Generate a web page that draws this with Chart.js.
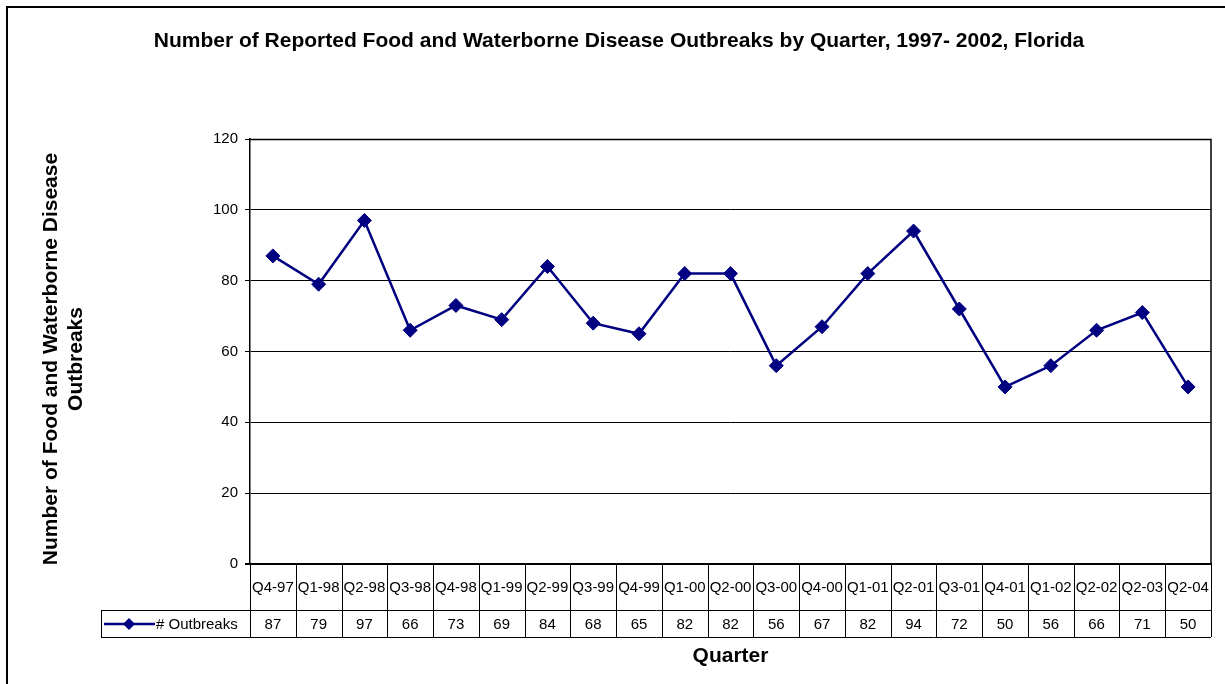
<!DOCTYPE html>
<html>
<head>
<meta charset="utf-8">
<script src="https://cdn.jsdelivr.net/npm/chart.js@4.4.1/dist/chart.umd.min.js"></script>
<style>
html,body{margin:0;padding:0;background:#fff;}
#wrap{position:relative;width:1225px;height:684px;}
</style>
</head>
<body>
<div id="wrap"><canvas id="c" width="1225" height="684"></canvas></div>
<script>
const categories = ["Q4-97","Q1-98","Q2-98","Q3-98","Q4-98","Q1-99","Q2-99","Q3-99","Q4-99","Q1-00","Q2-00","Q3-00","Q4-00","Q1-01","Q2-01","Q3-01","Q4-01","Q1-02","Q2-02","Q2-03","Q2-04"];
const outbreaks = [87,79,97,66,73,69,84,68,65,82,82,56,67,82,94,72,50,56,66,71,50];
const seriesName = "# Outbreaks";
const yTicks = [0,20,40,60,80,100,120];
const chartTitle = "Number of Reported Food and Waterborne Disease Outbreaks by Quarter, 1997- 2002, Florida";
const yTitleLines = ["Number of Food and Waterborne Disease","Outbreaks"];
const xTitle = "Quarter";

const NAVY = "#000080";
const FONT = "Arial, 'Liberation Sans', sans-serif";
const ROW1 = 46, ROW2 = 27;

const tablePlugin = {
  id: 'tablePlugin',
  beforeDraw(chart){
    const ctx = chart.ctx;
    ctx.save();
    ctx.fillStyle = '#fff';
    ctx.fillRect(0,0,chart.width,chart.height);
    ctx.restore();
  },
  afterDraw(chart){
    const ctx = chart.ctx;
    const ca = chart.chartArea;
    const xs = chart.scales.x;
    const n = chart.data.labels.length;
    const step = (ca.right - ca.left)/n;
    const y0 = ca.bottom, y1 = ca.bottom + ROW1, y2 = y1 + ROW2;
    ctx.save();
    // outer frame
    ctx.strokeStyle = '#000';
    ctx.lineWidth = 2;
    ctx.strokeRect(7, 7, 1400, 900);
    // plot border (top/right)
    ctx.lineWidth = 1.5;
    ctx.beginPath();
    ctx.moveTo(ca.left, ca.top+0.5); ctx.lineTo(ca.right, ca.top+0.5);
    ctx.lineTo(ca.right, ca.bottom);
    ctx.stroke();
    // table lines
    ctx.lineWidth = 1;
    ctx.strokeStyle = '#000';
    ctx.beginPath();
    for(let i=0;i<=n;i++){
      const x = Math.round(xs.getPixelForValue(Math.min(i,n-1)) + (i<n ? -step/2 : step/2)) + 0.5;
      ctx.moveTo(x, y0); ctx.lineTo(x, y2);
    }
    ctx.moveTo(101.5, y1+0.5); ctx.lineTo(ca.right, y1+0.5);
    ctx.moveTo(101.5, y2+0.5); ctx.lineTo(ca.right, y2+0.5);
    ctx.moveTo(101.5, y1); ctx.lineTo(101.5, y2+1);
    ctx.stroke();
    // bottom axis line thick
    ctx.lineWidth = 2;
    ctx.beginPath();
    ctx.moveTo(ca.left-5, y0); ctx.lineTo(ca.right+1, y0);
    ctx.stroke();
    // values
    const ds = chart.data.datasets[0];
    ctx.fillStyle = '#000';
    ctx.font = '15px ' + FONT;
    ctx.textAlign = 'center';
    ctx.textBaseline = 'middle';
    ds.data.forEach((v,i)=>{
      ctx.fillText(String(v), xs.getPixelForValue(i), (y1+y2)/2 + 1);
    });
    // legend key
    const ly = (y1+y2)/2 + 0.5;
    ctx.strokeStyle = NAVY;
    ctx.lineWidth = 2.5;
    ctx.beginPath(); ctx.moveTo(104, ly); ctx.lineTo(155, ly); ctx.stroke();
    ctx.fillStyle = NAVY;
    ctx.beginPath();
    ctx.moveTo(129, ly-6); ctx.lineTo(135, ly); ctx.lineTo(129, ly+6); ctx.lineTo(123, ly);
    ctx.closePath(); ctx.fill();
    ctx.fillStyle = '#000';
    ctx.textAlign = 'left';
    ctx.fillText(ds.label, 156, ly + 0.5);
    // title
    ctx.font = 'bold 21px ' + FONT;
    ctx.textAlign = 'center';
    ctx.fillText(chartTitle, 619, 41);
    // x title
    ctx.fillText(xTitle, (ca.left+ca.right)/2, 656);
    // y title
    ctx.save();
    ctx.translate(51, 359);
    ctx.rotate(-Math.PI/2);
    ctx.fillText(yTitleLines[0], 0, 0);
    ctx.fillText(yTitleLines[1], 0, 25);
    ctx.restore();
    ctx.restore();
  }
};

new Chart(document.getElementById('c'), {
  type: 'line',
  data: {
    labels: categories,
    datasets: [{
      label: seriesName,
      data: outbreaks,
      borderColor: NAVY,
      backgroundColor: NAVY,
      borderWidth: 2.5,
      pointStyle: 'rectRot',
      pointRadius: 7,
      pointHoverRadius: 7,
      pointBorderWidth: 1,
      tension: 0
    }]
  },
  options: {
    responsive: false,
    animation: false,
    devicePixelRatio: 1,
    layout: { padding: { left: 0, right: 14, top: 139, bottom: 684 - 564 - ROW1 - ROW2 } },
    plugins: { legend: { display: false }, title: { display: false }, tooltip: { enabled: false } },
    scales: {
      x: {
        type: 'category',
        offset: true,
        grid: { display: false, drawTicks: false },
        border: { display: false },
        ticks: { color: '#000', font: { size: 15, family: FONT }, padding: 15, maxRotation: 0, autoSkip: false },
        afterFit(scale){ scale.height = ROW1 + ROW2; }
      },
      y: {
        min: 0, max: 120,
        afterBuildTicks(scale){ scale.ticks = yTicks.map(v=>({value:v})); },
        grid: { color: '#000', lineWidth: 1, tickLength: 5, drawTicks: true, tickColor: '#000' },
        border: { display: true, color: '#000', width: 1.5 },
        ticks: { color: '#000', font: { size: 15, family: FONT }, padding: 7 },
        afterFit(scale){ scale.width = 250; }
      }
    }
  },
  plugins: [tablePlugin]
});
</script>
</body>
</html>
